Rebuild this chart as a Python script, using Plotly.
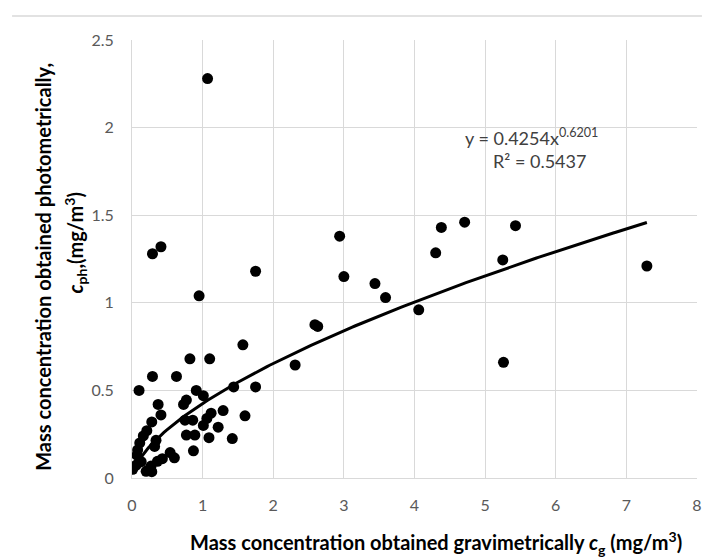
import numpy as np
import plotly.graph_objects as go

# Measured data: gravimetric (x) vs photometric (y) mass concentration, mg/m3
cg = [1.07, 0.29, 0.41, 0.95, 1.75, 2.94, 3.00, 3.44, 3.59, 4.06,
      4.30, 4.38, 4.71, 5.25, 5.43, 5.26, 7.29, 2.59, 2.63, 2.31,
      1.57, 1.10, 0.82, 0.29, 0.63, 0.10, 1.44, 1.75, 1.60, 1.42,
      0.91, 1.01, 0.77, 0.73, 0.37, 0.41, 1.29, 1.12, 1.06, 0.86,
      0.75, 1.01, 1.22, 0.77, 0.89, 1.09, 0.87, 0.28, 0.21, 0.16,
      0.11, 0.08, 0.07, 0.34, 0.32, 0.54, 0.60, 0.43, 0.36, 0.27,
      0.20, 0.01, 0.06, 0.13, 0.28, 0.23]
cph = [2.28, 1.28, 1.32, 1.04, 1.18, 1.38, 1.15, 1.11, 1.03, 0.96,
       1.285, 1.43, 1.46, 1.245, 1.44, 0.66, 1.21, 0.875, 0.865, 0.645,
       0.76, 0.68, 0.68, 0.58, 0.58, 0.50, 0.52, 0.52, 0.355, 0.225,
       0.50, 0.47, 0.445, 0.42, 0.42, 0.36, 0.385, 0.37, 0.34, 0.33,
       0.33, 0.30, 0.29, 0.245, 0.245, 0.23, 0.155, 0.32, 0.27, 0.24,
       0.20, 0.16, 0.13, 0.215, 0.18, 0.145, 0.115, 0.11, 0.095, 0.068,
       0.038, 0.05, 0.074, 0.093, 0.036, 0.045]

# Power trendline coefficients (from chart label)
fit_a = 0.4254
fit_b = 0.6201
fit_r2 = 0.5437

x_ticks = [0, 1, 2, 3, 4, 5, 6, 7, 8]
y_ticks = [0, 0.5, 1, 1.5, 2, 2.5]
y_tick_text = ["0", "0.5", "1", "1.5", "2", "2.5"]

xt = np.linspace(min(cg), max(cg), 200)
yt = fit_a * xt ** fit_b

FONT = "Lato, 'Open Sans', sans-serif"
GRID = "#d9d9d9"

L, R, T, B = 132, 702, 40, 478
PW, PH = R - L, B - T


def px(xp):
    return (xp - L) / PW


def py(yp):
    return (B - yp) / PH


fig = go.Figure()
fig.add_trace(go.Scatter(x=cg, y=cph, mode="markers",
                         marker=dict(size=11, color="black"),
                         showlegend=False, hoverinfo="x+y"))
fig.add_trace(go.Scatter(x=xt, y=yt, mode="lines",
                         line=dict(color="black", width=3),
                         showlegend=False, hoverinfo="skip"))

fig.update_layout(
    width=707, height=557,
    margin=dict(l=L, r=707 - R, t=T, b=557 - B),
    plot_bgcolor="white", paper_bgcolor="white",
    font=dict(family=FONT, size=16, color="#595959"),
    xaxis=dict(range=[0, 8], tickvals=x_ticks, showgrid=True, gridcolor=GRID,
               gridwidth=1, zeroline=False, showline=True, linecolor=GRID,
               ticks="", ticklabelstandoff=13,
               tickfont=dict(family=FONT, size=16, color="#595959")),
    yaxis=dict(range=[0, 2.5], tickvals=y_ticks, ticktext=y_tick_text,
               showgrid=True, gridcolor=GRID, gridwidth=1, zeroline=False,
               showline=True, linecolor=GRID, ticks="", ticklabelstandoff=14,
               tickfont=dict(family=FONT, size=16, color="#595959")),
    shapes=[dict(type="line", xref="paper", yref="paper",
                 x0=px(11), x1=px(707), y0=py(16), y1=py(16),
                 line=dict(color=GRID, width=1.5))],
)

fig.add_annotation(xref="paper", yref="paper", x=px(439), y=py(543),
                   text="<b>Mass concentration obtained gravimetrically <i>c</i><sub>g</sub> (mg/m<sup>3</sup>)</b>",
                   showarrow=False, font=dict(family=FONT, size=20, color="black"),
                   xanchor="center", yanchor="middle")
fig.add_annotation(xref="paper", yref="paper", x=px(42), y=py(267),
                   text="<b>Mass concentration obtained photometrically,</b>",
                   textangle=-90, showarrow=False,
                   font=dict(family=FONT, size=20, color="black"),
                   xanchor="center", yanchor="middle")
fig.add_annotation(xref="paper", yref="paper", x=px(75), y=py(243),
                   text="<b><i>c</i><sub>ph</sub>,(mg/m<sup>3</sup>)</b>",
                   textangle=-90, showarrow=False,
                   font=dict(family=FONT, size=20, color="black"),
                   xanchor="center", yanchor="middle")
fig.add_annotation(xref="paper", yref="paper", x=px(535), y=py(137),
                   text=f"y = {fit_a}x<sup>{fit_b}</sup>",
                   showarrow=False, font=dict(family=FONT, size=18, color="#404040"),
                   xanchor="center", yanchor="middle")
fig.add_annotation(xref="paper", yref="paper", x=px(543), y=py(161),
                   text=f"R² = {fit_r2}",
                   showarrow=False, font=dict(family=FONT, size=18, color="#404040"),
                   xanchor="center", yanchor="middle")

fig.write_html("out.html", config={"displayModeBar": False},
               post_script="document.body.style.margin='0px';document.body.style.padding='0px';")
